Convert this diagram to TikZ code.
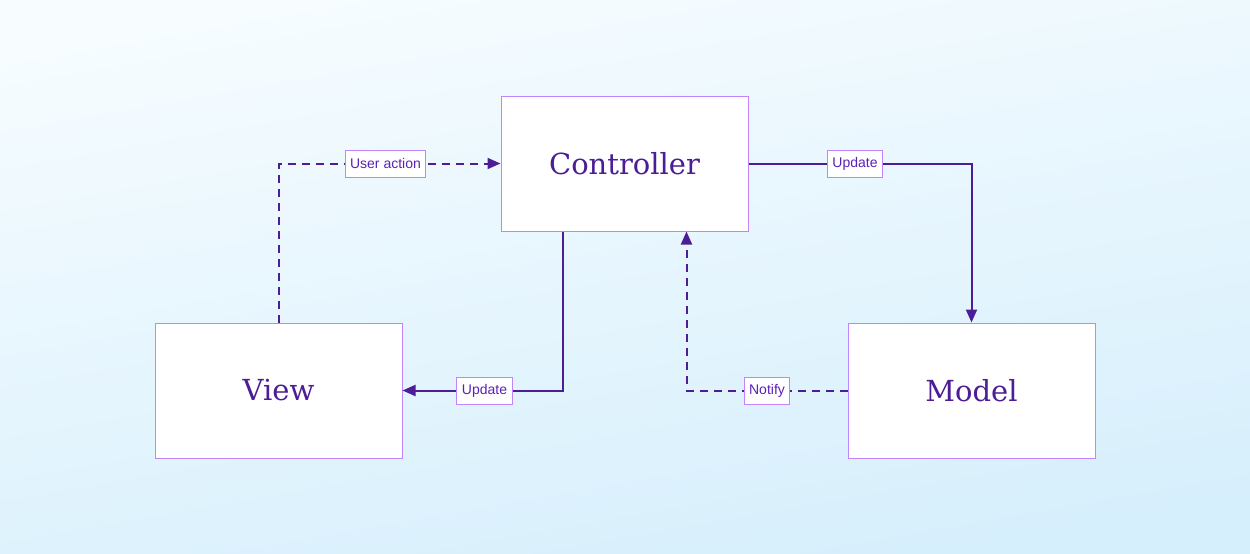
\documentclass[tikz,border=0pt]{standalone}
\usepackage{fontspec}
\setmainfont{DejaVu Serif}
\newfontfamily\labelfont{Liberation Sans}
\usetikzlibrary{arrows.meta,calc}
\definecolor{boxborder}{RGB}{192,132,252}
\definecolor{ink}{RGB}{76,29,149}
\definecolor{labelink}{RGB}{91,33,182}
\definecolor{bgtop}{RGB}{246,252,255}
\definecolor{bgbot}{RGB}{214,239,252}
\tikzset{
  compbox/.style={draw=boxborder, line width=1pt, fill=white, minimum width=247pt, minimum height=135pt, inner sep=0pt, text=ink, font=\fontsize{29}{34}\selectfont},
  edgelabel/.style={draw=boxborder, line width=1pt, fill=white, text=labelink, font=\labelfont\fontsize{14}{16}\selectfont, inner xsep=5pt, inner ysep=0pt, minimum height=27pt},
  flow/.style={draw=ink, line width=2pt, -{Triangle[length=13pt,width=11pt]}},
  dashflow/.style={flow, dash pattern=on 8pt off 6pt},
}
\begin{document}
\begin{tikzpicture}[x=1pt,y=-1pt]
\shade[top color=bgtop, bottom color=bgbot, shading angle=10] (0,0) rectangle (1250,554);
\useasboundingbox (0,0) rectangle (1250,554);
\node[compbox] (c) at (624.5,163.5) {Controller};
\node[compbox] (v) at (278.5,390.5) {View};
\node[compbox] (m) at (971.5,390.5) {Model};
\coordinate (cs1) at ($(c.south west)!0.25!(c.south east)$);
\coordinate (cs2) at ($(c.south west)!0.75!(c.south east)$);
\draw[dashflow] (v.north) |- node[pos=0.75, edgelabel, solid, xshift=-4pt] (l1) {User action} (c.west);
\draw[flow] (c.east) -| node[pos=0.25, edgelabel, xshift=-5pt] (l2) {Update} (m.north);
\draw[flow] (cs1) |- node[pos=0.75, edgelabel, xshift=2pt] (l3) {Update} (v.east);
\draw[dashflow] (m.west) -| node[pos=0.25, edgelabel, solid] (l4) {Notify} (cs2);
\end{tikzpicture}
\end{document}
